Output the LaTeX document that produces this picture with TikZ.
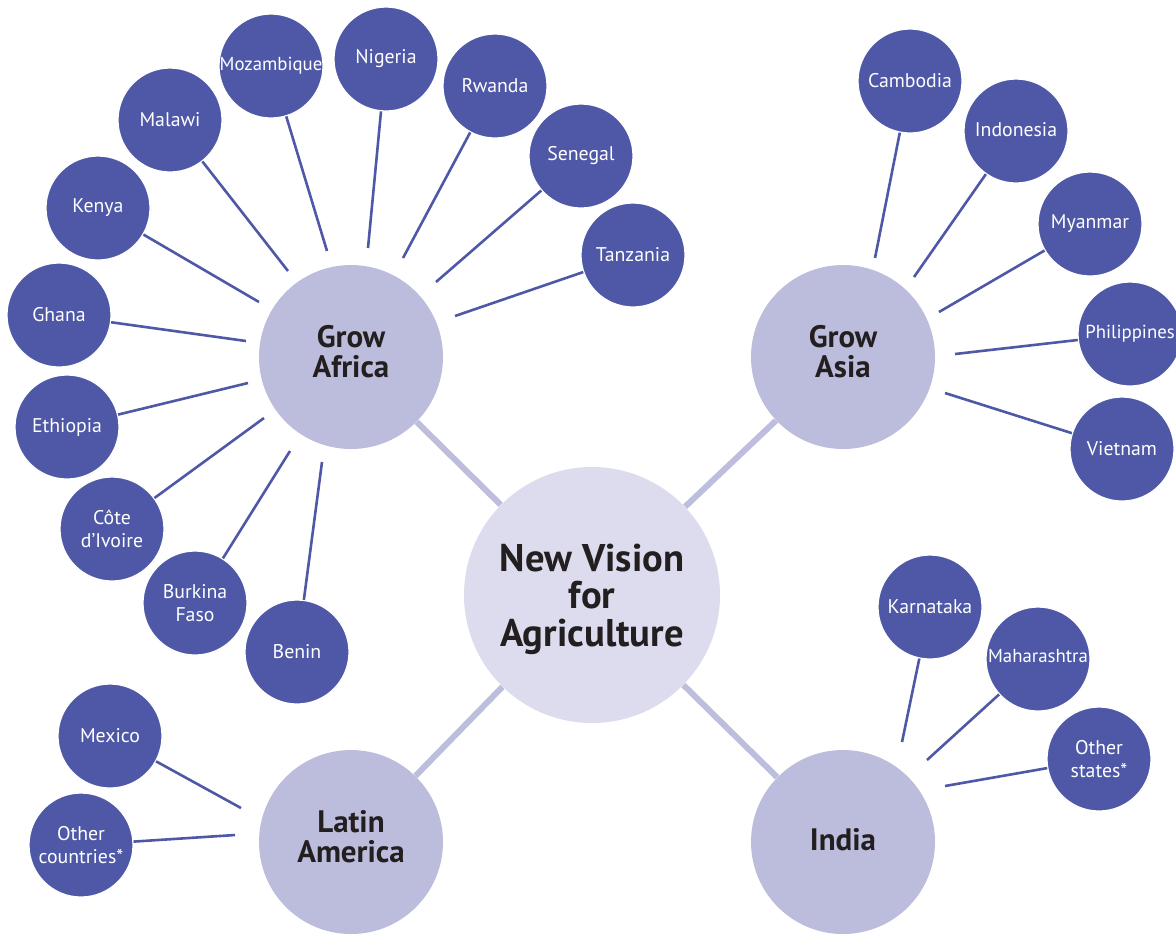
\documentclass[tikz,border=0pt]{standalone}
\usepackage{fontspec}
\setmainfont{PT Sans}
\usetikzlibrary{calc}
\definecolor{smallc}{HTML}{4E58A6}
\definecolor{regc}{HTML}{BCBCDC}
\definecolor{hubc}{HTML}{DCDCEE}
\definecolor{thickc}{HTML}{BDBDDD}
\definecolor{textc}{HTML}{231F20}
\tikzset{
  small/.style={circle, fill=smallc, draw=white, line width=0.6pt, minimum size=52pt, inner sep=0pt, text=white, align=center, font=\fontsize{9.9}{11.2}\selectfont},
  narrowtext/.style={font=\fontsize{9.4}{11}\selectfont},
  region/.style={circle, fill=regc, minimum size=92pt, inner sep=0pt},
  rlab/.style={text=textc, align=center, inner sep=0pt, yshift=2.5pt, font=\bfseries\fontsize{15.5}{15}\selectfont},
  hub/.style={circle, fill=hubc, minimum size=128pt, inner sep=0pt},
  hlab/.style={text=textc, align=center, inner sep=0pt, yshift=-2pt, font=\bfseries\fontsize{19.3}{18.75}\selectfont},
  thick link/.style={draw=thickc, line width=3pt},
  thin link/.style={draw=smallc, line width=1.3pt}
}
\begin{document}
\begin{tikzpicture}[x=0.5pt, y=-0.5pt]
\useasboundingbox (0,0) rectangle (1176,934);
% hub and regions
\node[hub, label={[hlab]center:{New Vision\\for\\Agriculture}}] (hub) at (592,595) {};
\node[region, label={[rlab]center:{Grow\\Africa}}] (ga) at (351,357) {};
\node[region, label={[rlab]center:{Grow\\Asia}}] (gs) at (843,357) {};
\node[region, label={[rlab]center:{Latin\\America}}] (la) at (351,842) {};
\node[region, label={[rlab, yshift=-1.5pt]center:{India}}] (in) at (843,842) {};
\draw[thick link] (hub) -- (ga);
\draw[thick link] (hub) -- (gs);
\draw[thick link] (hub) -- (la);
\draw[thick link] (hub) -- (in);
% Africa
\node[small] (ghana) at (59,315) {Ghana};
\node[small] (ethiopia) at (67,427) {Ethiopia};
\node[small] (cote) at (112,529) {Côte\\d’Ivoire};
\node[small] (burkina) at (195,603) {Burkina\\Faso};
\node[small] (benin) at (297,652) {Benin};
\node[small] (kenya) at (98,208) {Kenya};
\node[small] (malawi) at (170,120) {Malawi};
\node[small, narrowtext] (mozambique) at (271,66) {\raisebox{2pt}{Mozambique}};
\node[small] (nigeria) at (386,59) {\raisebox{2pt}{Nigeria}};
\node[small] (rwanda) at (495,86) {Rwanda};
\node[small] (senegal) at (581,156) {Senegal};
\node[small] (tanzania) at (633,255) {Tanzania};
\coordinate (eghana) at (246,341);
\coordinate (eethiopia) at (248,383);
\coordinate (ecote) at (264,418);
\coordinate (eburkina) at (290,451);
\coordinate (ebenin) at (322,462);
\coordinate (ekenya) at (259,302);
\coordinate (emalawi) at (288,271);
\coordinate (emozambique) at (327,251);
\coordinate (enigeria) at (368,248);
\coordinate (erwanda) at (403,258);
\coordinate (esenegal) at (436,282);
\coordinate (etanzania) at (455,316);
\foreach \n in {ghana,ethiopia,cote,burkina,benin,kenya,malawi,mozambique,nigeria,rwanda,senegal,tanzania}
  \draw[thin link] (\n) -- (e\n);
% Asia
\node[small] (cambodia) at (910,81) {Cambodia};
\node[small] (indonesia) at (1016,131) {\raisebox{2pt}{Indonesia}};
\node[small] (myanmar) at (1090,224) {Myanmar};
\node[small, narrowtext] (philippines) at (1130,334) {Philippines};
\node[small] (vietnam) at (1122,449) {\raisebox{1pt}{Vietnam}};
\coordinate (ecambodia) at (875,258);
\coordinate (eindonesia) at (914,277);
\coordinate (emyanmar) at (939,312);
\coordinate (ephilippines) at (955,354);
\coordinate (evietnam) at (945,393);
\foreach \n in {cambodia,indonesia,myanmar,philippines,vietnam}
  \draw[thin link] (\n) -- (e\n);
% India
\node[small] (karnataka) at (930,607) {Karnataka};
\node[small, narrowtext] (maharashtra) at (1038,659) {\raisebox{3pt}{Maharashtra}};
\node[small] (ostates) at (1099,759) {Other\\states*};
\coordinate (ekarnataka) at (902,742);
\coordinate (emaharashtra) at (927,760);
\coordinate (eostates) at (945,786);
\foreach \n in {karnataka,maharashtra,ostates}
  \draw[thin link] (\n) -- (e\n);
% Latin America
\node[small] (mexico) at (110,736) {Mexico};
\node[small] (ocountries) at (81,845) {Other\\countries*};
\coordinate (emexico) at (241,808);
\coordinate (eocountries) at (235,835);
\foreach \n in {mexico,ocountries}
  \draw[thin link] (\n) -- (e\n);
\end{tikzpicture}
\end{document}
